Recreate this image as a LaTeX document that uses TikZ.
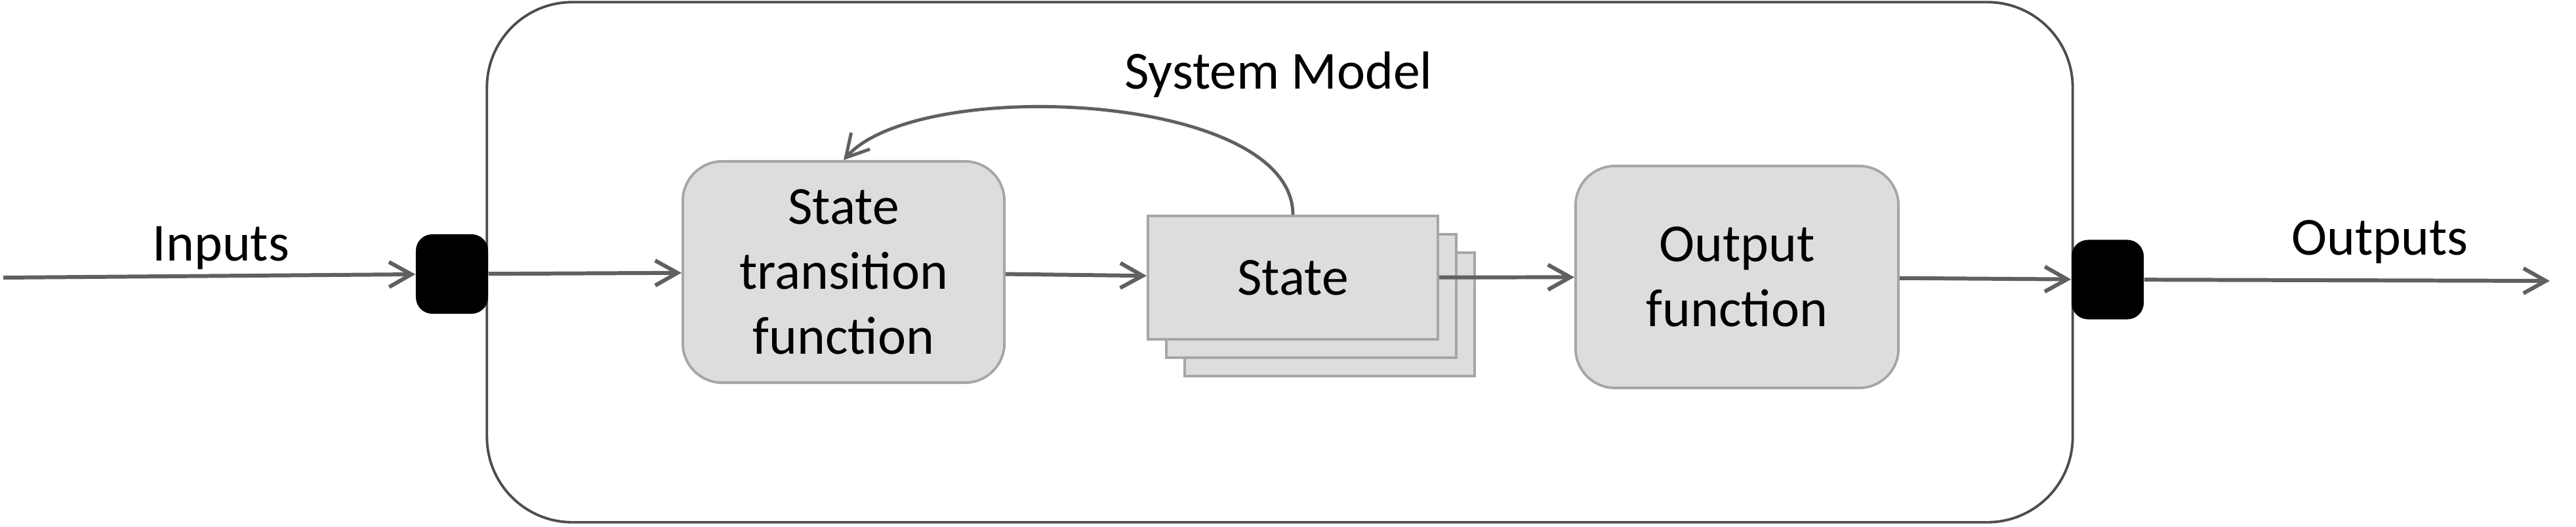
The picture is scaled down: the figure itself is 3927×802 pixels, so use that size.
\documentclass[tikz,border=0pt]{standalone}
\usepackage{fontspec}
\setmainfont{Carlito}
\usetikzlibrary{arrows.meta}
\definecolor{framegray}{HTML}{4D4D4D}
\definecolor{arrowgray}{HTML}{606060}
\definecolor{boxfill}{HTML}{DDDDDD}
\definecolor{boxline}{HTML}{A6A6A6}

\begin{document}
\begin{tikzpicture}[x=0.01cm,y=-0.01cm,
  every node/.style={font=\fontsize{23.2pt}{28.2pt}\selectfont},
  func/.style={draw=boxline,fill=boxfill,line width=1.1pt,rounded corners=0.6cm,align=center,inner sep=0pt},
  statebox/.style={draw=boxline,fill=boxfill,line width=1.1pt,minimum width=4.42cm,minimum height=1.88cm,inner sep=0pt},
  port/.style={fill=black,rounded corners=0.25cm,minimum width=1.1cm,minimum height=1.21cm,inner sep=0pt},
  flow/.style={draw=arrowgray,line width=1.7pt,-{Straight Barb[length=0.34cm,width=0.38cm]}}]
\useasboundingbox (0,0) rectangle (3927,802);

\node (model) [draw=framegray,line width=1.1pt,rounded corners=1.3cm,minimum width=24.16cm,minimum height=7.92cm] at (1951,399.5) {};
\node (title) [anchor=base] at (1949,135) {System Model};

\node (stf) [func,minimum width=4.9cm,minimum height=3.37cm] at (1286,414.5) {State\\transition\\function};

\node (stateback) [statebox] at (2027,479) {};
\node (statemid) [statebox] at (1999,451) {};
\node (state) [statebox] at (1971,423) {State};

\node (outfn) [func,minimum width=4.92cm,minimum height=3.38cm] at (2648,422) {Output\\function};

\node (lport) [port] at (689,417.5) {};
\node (rport) [port] at (3213,426) {};

\coordinate (inpt) at (5,423);
\coordinate (outpt) at (3887,428);
\node (inlabel) [anchor=base] at (337,397) {Inputs};
\node (outlabel) [anchor=base] at (3628,388) {Outputs};

\draw[flow] (inpt) -- (lport);
\draw[flow] (lport) -- (stf);
\draw[flow] (stf) -- (state);
\draw[flow] (state) -- (outfn);
\draw[flow] (outfn) -- (rport);
\draw[flow] (rport) -- (outpt);
% feedback of the state
\draw[flow,line width=1.4pt] (state.north) .. controls (1970,140) and (1400,115) .. (stf.north);

\end{tikzpicture}
\end{document}
